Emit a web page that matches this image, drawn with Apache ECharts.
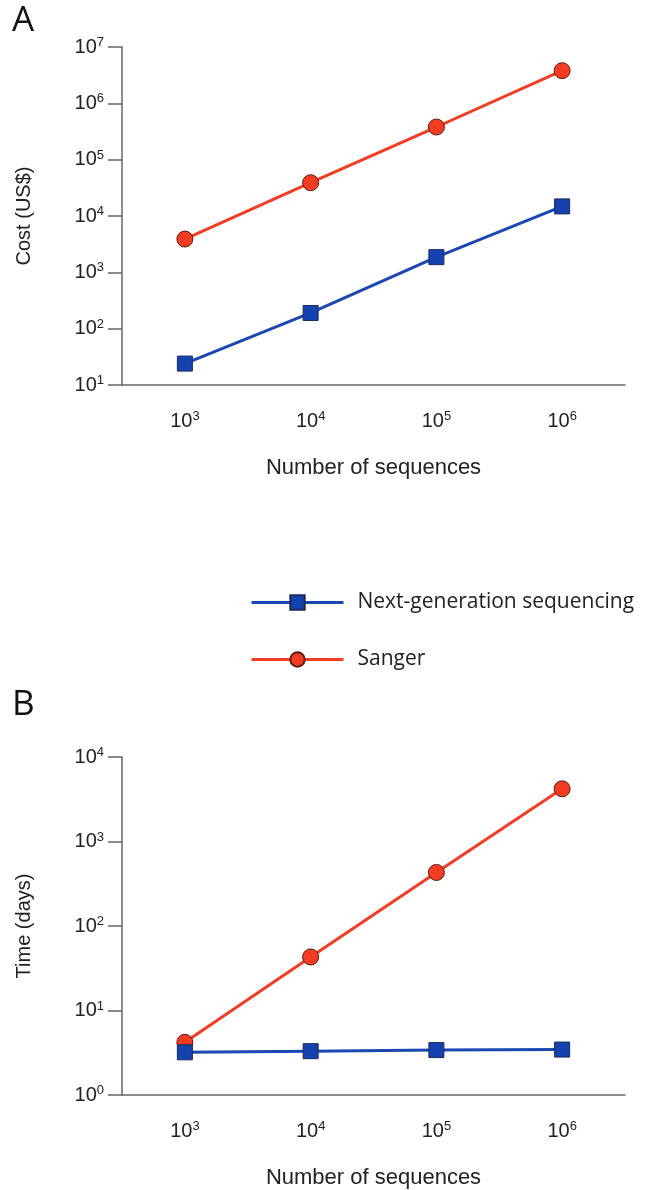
<!DOCTYPE html>
<html>
<head>
<meta charset="utf-8">
<script src="https://cdn.jsdelivr.net/npm/echarts@6/dist/echarts.min.js"></script>
<style>
  html, body { margin: 0; padding: 0; background: #fff; }
  #chart { width: 645px; height: 1190px; }
</style>
</head>
<body>
<div id="chart"></div>
<script>
  // x categories = exponents of the number of sequences
  var sequenceExp = ['3', '4', '5', '6'];

  // panel A: cost (US$)
  var costNGS = [24, 190, 1860, 14800];
  var costSanger = [3900, 39000, 380000, 3800000];

  // panel B: time (days)
  var timeNGS = [3.2, 3.3, 3.4, 3.45];
  var timeSanger = [4.2, 43, 430, 4200];

  var NGS = 'Next-generation sequencing';
  var SANGER = 'Sanger';

  var blueLine = '#1b47b3';
  var blueFill = '#1443b0';
  var redLine = '#f23c24';
  var redFill = '#f43c22';
  var axisGray = '#666';
  var labelFont = 'Liberation Sans, Arial, sans-serif';
  var mfont = 'Open Sans, sans-serif';

  var supRich = {
    b: { fontSize: 20, fontFamily: labelFont, color: '#222' },
    s: { fontSize: 13, fontFamily: labelFont, color: '#222', padding: [0, 0, 9, 0] }
  };

  function logLabel(v) {
    var e = Math.round(Math.log10(v));
    return '{b|10}{s|' + e + '}';
  }

  function xAxisCfg(gridIndex) {
    return {
      type: 'category',
      gridIndex: gridIndex,
      data: sequenceExp,
      boundaryGap: true,
      name: 'Number of sequences',
      nameLocation: 'middle',
      nameGap: 72,
      nameTextStyle: { fontSize: 22, fontFamily: labelFont, color: '#222' },
      axisLine: { lineStyle: { color: axisGray, width: 1.5 } },
      axisTick: { alignWithLabel: true, length: 14, lineStyle: { color: axisGray, width: 1.5 } },
      axisLabel: {
        margin: 25,
        fontFamily: labelFont,
        fontSize: 20,
        formatter: function (v) { return '{b|10}{s|' + v + '}'; },
        rich: supRich
      },
      splitLine: { show: false }
    };
  }

  function yAxisCfg(gridIndex, name, min, max) {
    return {
      type: 'log',
      logBase: 10,
      gridIndex: gridIndex,
      min: min,
      max: max,
      name: name,
      nameLocation: 'middle',
      nameGap: 88,
      nameTextStyle: { fontSize: 20, fontFamily: labelFont, color: '#222' },
      axisLine: { show: true, lineStyle: { color: axisGray, width: 1.5 } },
      axisTick: { show: true, length: 14, lineStyle: { color: axisGray, width: 1.5 } },
      axisLabel: { margin: 18, fontFamily: labelFont, fontSize: 20, formatter: logLabel, rich: supRich },
      splitLine: { show: false }
    };
  }

  function lineSeries(name, data, idx, isNGS) {
    return {
      name: name,
      type: 'line',
      xAxisIndex: idx,
      yAxisIndex: idx,
      data: data,
      symbol: isNGS ? 'rect' : 'circle',
      symbolSize: isNGS ? 15 : 16,
      lineStyle: { color: isNGS ? blueLine : redLine, width: 3 },
      itemStyle: {
        color: isNGS ? blueFill : redFill,
        borderColor: isNGS ? '#1a2a5c' : '#5a1d12',
        borderWidth: 1
      },
      z: isNGS ? 3 : 2,
      animation: false
    };
  }

  var chart = echarts.init(document.getElementById('chart'));
  chart.setOption({
    backgroundColor: '#fff',
    animation: false,
    graphic: [
      { type: 'text', left: 12, top: 4, style: { text: 'A', fontSize: 35, fontFamily: mfont, fill: '#111' } },
      { type: 'text', left: 12, top: 688, style: { text: 'B', fontSize: 35, fontFamily: mfont, fill: '#111' } }
    ],
    legend: {
      orient: 'vertical',
      left: 250,
      top: 592,
      padding: 0,
      itemWidth: 92,
      itemHeight: 18,
      itemGap: 36,
      data: [NGS, SANGER],
      lineStyle: { width: 3 },
      textStyle: { fontSize: 21, fontFamily: mfont, color: '#222', padding: [0, 0, 0, 9] }
    },
    grid: [
      { left: 122, top: 47, width: 503, height: 338 },
      { left: 122, top: 757, width: 503, height: 338 }
    ],
    xAxis: [xAxisCfg(0), xAxisCfg(1)],
    yAxis: [
      yAxisCfg(0, 'Cost (US$)', 10, 10000000),
      yAxisCfg(1, 'Time (days)', 1, 10000)
    ],
    series: [
      lineSeries(SANGER, costSanger, 0, false),
      lineSeries(NGS, costNGS, 0, true),
      lineSeries(SANGER, timeSanger, 1, false),
      lineSeries(NGS, timeNGS, 1, true)
    ]
  });
</script>
</body>
</html>
